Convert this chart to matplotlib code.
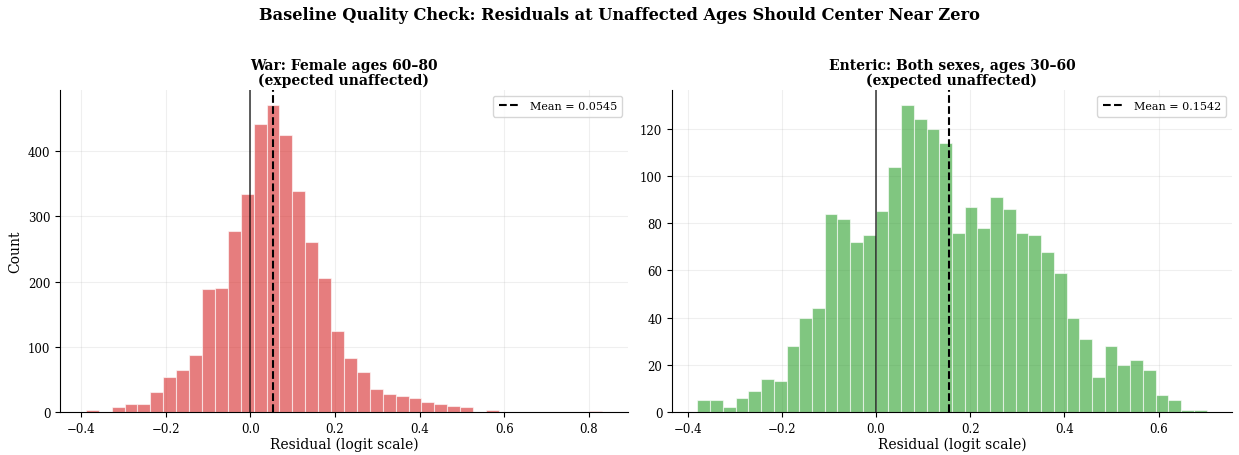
import numpy as np
import matplotlib
matplotlib.use("Agg")
import matplotlib.pyplot as plt

plt.rcParams['font.family'] = ['DejaVu Serif']

# War: Female ages 60-80 residual histogram (40 bins)
war_bin_start = -0.3886
war_bin_width = 0.0305
war_counts = [3, 0, 8, 13, 13, 31, 54, 65, 88, 188,
              190, 278, 334, 441, 470, 425, 338, 261, 205, 124,
              82, 61, 36, 27, 24, 22, 16, 12, 9, 8,
              0, 3, 0, 0, 0, 0, 0, 0, 0, 1]
war_mean = 0.0545

# Enteric: Both sexes, ages 30-60 residual histogram (40 bins)
ent_bin_start = -0.379
ent_bin_width = 0.02702
ent_counts = [5, 5, 2, 6, 9, 14, 13, 28, 40, 44,
              84, 82, 72, 75, 85, 104, 130, 124, 120, 114,
              76, 87, 78, 91, 86, 76, 75, 68, 59, 40,
              31, 15, 28, 20, 22, 18, 7, 5, 1, 1]
ent_mean = 0.1542

panels = [
    ("War: Female ages 60\u201380\n(expected unaffected)", war_bin_start, war_bin_width,
     war_counts, war_mean, '#d62728'),
    ("Enteric: Both sexes, ages 30\u201360\n(expected unaffected)", ent_bin_start, ent_bin_width,
     ent_counts, ent_mean, '#2ca02c'),
]

W, H = 1239, 456
fig = plt.figure(figsize=(W / 100, H / 100), dpi=100)
# axes boxes in pixels: (left, right)
boxes = [(60, 628), (672, 1232)]
axes = [fig.add_axes([l / W, 1 - 413 / H, (r - l) / W, (413 - 91) / H]) for l, r in boxes]

for ax, (title, start, width, counts, mean, color) in zip(axes, panels):
    edges = start + width * np.arange(len(counts) + 1)
    centers = (edges[:-1] + edges[1:]) / 2
    ax.hist(centers, bins=edges, weights=counts, color=color, alpha=0.6,
            edgecolor='white', linewidth=0.8)
    ax.axvline(0, color='black', linewidth=1.1, alpha=0.8)
    ax.axvline(mean, color='black', linestyle='--', linewidth=1.5,
               label=f'Mean = {mean:.4f}')
    ax.set_title(title, fontsize=10, fontweight='bold', pad=4, linespacing=1.05)
    ax.set_xlabel('Residual (logit scale)', fontsize=10, labelpad=1.5)
    ax.legend(loc='upper right', fontsize=8, borderpad=0.5)
    ax.grid(True, alpha=0.2)
    ax.set_axisbelow(True)
    ax.tick_params(labelsize=8.5)
    ax.spines['top'].set_visible(False)
    ax.spines['right'].set_visible(False)

axes[0].set_ylabel('Count', fontsize=10)

fig.suptitle('Baseline Quality Check: Residuals at Unaffected Ages Should Center Near Zero',
             fontsize=11.7, fontweight='bold', y=0.985)

fig.savefig('out.png', dpi=100)
